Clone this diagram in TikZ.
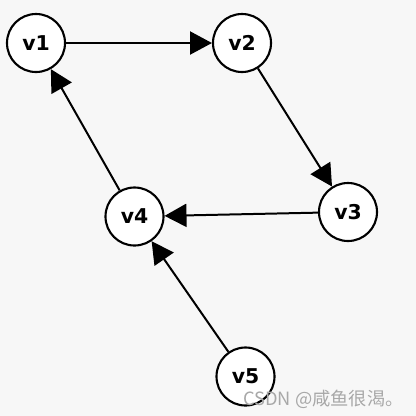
\documentclass[tikz,border=0pt]{standalone}
\usepackage{fontspec}
\setsansfont{DejaVu Sans}
\newfontfamily\cjk{Noto Sans CJK SC}
\usetikzlibrary{arrows.meta}
\definecolor{bg}{HTML}{F7F7F7}
\definecolor{wm}{HTML}{A8A8A8}
\tikzset{
  vtx/.style={circle, draw=black, fill=white, line width=1.5pt, minimum size=1.45cm, inner sep=0pt, font=\sffamily\bfseries\fontsize{14.5}{16}\selectfont},
  edge/.style={line width=1.42pt, -{Triangle[length=15.6pt,width=16.4pt]}}
}
\begin{document}
\begin{tikzpicture}[x=0.025cm,y=-0.025cm]
\fill[bg] (0,0) rectangle (416,416);
\useasboundingbox (0,0) rectangle (416,416);
\node[vtx] (v1) at (36,43) {v1};
\node[vtx] (v2) at (242,43) {v2};
\node[vtx] (v3) at (348,212) {v3};
\node[vtx] (v4) at (134.5,216.5) {v4};
\node[vtx] (v5) at (245.5,376.5) {v5};
\draw[edge] (v1) -- (v2);
\draw[edge] (v2) -- (v3);
\draw[edge] (v3) -- (v4);
\draw[edge] (v4) -- (v1);
\draw[edge] (v5) -- (v4);
\node[anchor=east, text=wm, inner sep=0pt, font=\cjk\fontsize{13}{15}\selectfont] (wm) at (404,399) {CSDN @咸鱼很渴。};
\end{tikzpicture}
\end{document}
